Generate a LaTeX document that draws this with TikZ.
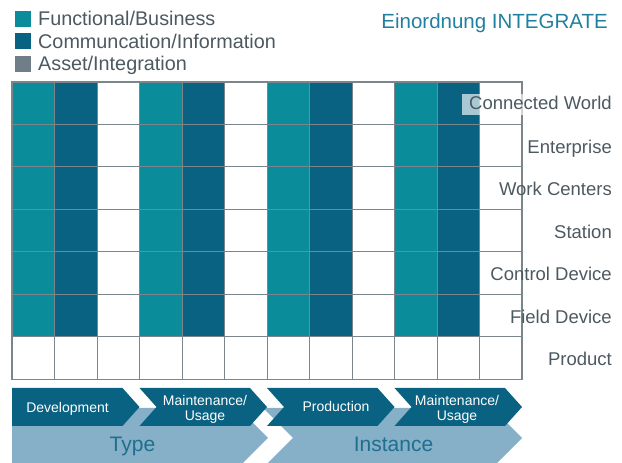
\documentclass[tikz,border=0pt]{standalone}
\usepackage{fontspec}
\setmainfont{Liberation Sans}
\usepackage{tikz}
\usetikzlibrary{positioning}
\definecolor{cteal}{HTML}{0A8C9B}
\definecolor{cdark}{HTML}{0A6282}
\definecolor{cgray}{HTML}{6F7E87}
\definecolor{ctext}{HTML}{4C5960}
\definecolor{clight}{HTML}{86AFC8}
\definecolor{ctitle}{HTML}{2180A0}
\definecolor{cphase}{HTML}{1F6F8F}
\definecolor{cline}{HTML}{7A868C}
\tikzset{
  legbox/.style={draw=none, minimum size=16pt, inner sep=0pt},
  legtext/.style={anchor=base west, inner sep=0pt, text=ctext, font=\fontsize{19.8}{22}\selectfont},
  rowlabel/.style={anchor=base east, inner sep=0pt, text=ctext, font=\fontsize{18.5}{22}\selectfont},
  chevtext/.style={text=white, align=center, inner sep=0pt, font=\fontsize{14}{15}\selectfont},
  phasetext/.style={anchor=base, inner sep=0pt, text=cphase, font=\fontsize{21}{24}\selectfont}
}

\begin{document}
\begin{tikzpicture}[x=1pt, y=1pt,
    gridline/.style={draw=cline, line width=1pt},
    chevdark/.style={fill=cdark},
    chevlight/.style={fill=clight}
]
    \useasboundingbox (0,0) rectangle (622,463);

    % Legend
    \node[legbox, fill=cteal] (sq_func) at (23,444) {};
    \node[legtext] (leg_func) at (38,437) {Functional/Business};
    \node[legbox, fill=cdark] (sq_comm) at (23,421.5) {};
    \node[legtext] (leg_comm) at (38,414.7) {Communcation/Information};
    \node[legbox, fill=cgray] (sq_asset) at (23,399) {};
    \node[legtext] (leg_asset) at (38,392) {Asset/Integration};

    % Title
    \node[anchor=base east, inner sep=0pt, text=ctitle, font=\fontsize{20.5}{24}\selectfont] (title) at (608,434.7) {Einordnung INTEGRATE};

    % Columns
    \foreach \x in {12,139.5,267,394.5} {
        \fill[cteal] (\x,126) rectangle ++(42.5,255);
        \fill[cdark] (\x+42.5,126) rectangle ++(42.5,255);
    }

    % Grid
    \begin{scope}[shift={(12,83.5)}]
        \draw[gridline, step=42.5] (0,0) grid (510,297.5);
        \draw[draw=cline, line width=1.6pt] (0,0) rectangle (510,297.5);
    \end{scope}

    % Hierarchy levels
    \node[rowlabel, fill=white, fill opacity=0.65, text opacity=1, inner xsep=7pt, inner ysep=2.5pt, text depth=3pt] (lvl_world) at (619,353) {Connected World};
    \node[rowlabel] (lvl_ent) at (612,309.5) {Enterprise};
    \node[rowlabel] (lvl_wc) at (612,267) {Work Centers};
    \node[rowlabel] (lvl_stat) at (612,224.5) {Station};
    \node[rowlabel] (lvl_ctrl) at (612,182) {Control Device};
    \node[rowlabel] (lvl_field) at (612,139.5) {Field Device};
    \node[rowlabel] (lvl_prod) at (612,97) {Product};

    % Type / Instance
    \begin{scope}
        \clip (0,0) rectangle (622,463);
        \fill[chevlight] (12,55) -- (238,55) -- (268,25) -- (238,-5) -- (12,-5) -- cycle;
        \fill[chevlight] (263,55) -- (492,55) -- (522,25) -- (492,-5) -- (263,-5) -- (293,25) -- cycle;
    \end{scope}
    \node[phasetext] (ph_type) at (132.5,11) {Type};
    \node[phasetext] (ph_inst) at (393.5,11) {Instance};

    % Life cycle phases
    \fill[chevdark] (12,75) -- (122.5,75) -- (139.5,56) -- (122.5,37) -- (12,37) -- cycle;
    \fill[chevdark] (139.5,75) -- (250,75) -- (267,56) -- (250,37) -- (139.5,37) -- (156.5,56) -- cycle;
    \fill[chevdark] (267,75) -- (377.5,75) -- (394.5,56) -- (377.5,37) -- (267,37) -- (284,56) -- cycle;
    \fill[chevdark] (394.5,75) -- (505,75) -- (522,56) -- (505,37) -- (394.5,37) -- (411.5,56) -- cycle;

    \node[chevtext, anchor=base] (lc_dev) at (67.5,50) {Development};
    \node[chevtext] (lc_maint1) at (205,54) {Maintenance/\\Usage};
    \node[chevtext, anchor=base] (lc_prod) at (336,51) {Production};
    \node[chevtext] (lc_maint2) at (457,54) {Maintenance/\\Usage};

\end{tikzpicture}
\end{document}
